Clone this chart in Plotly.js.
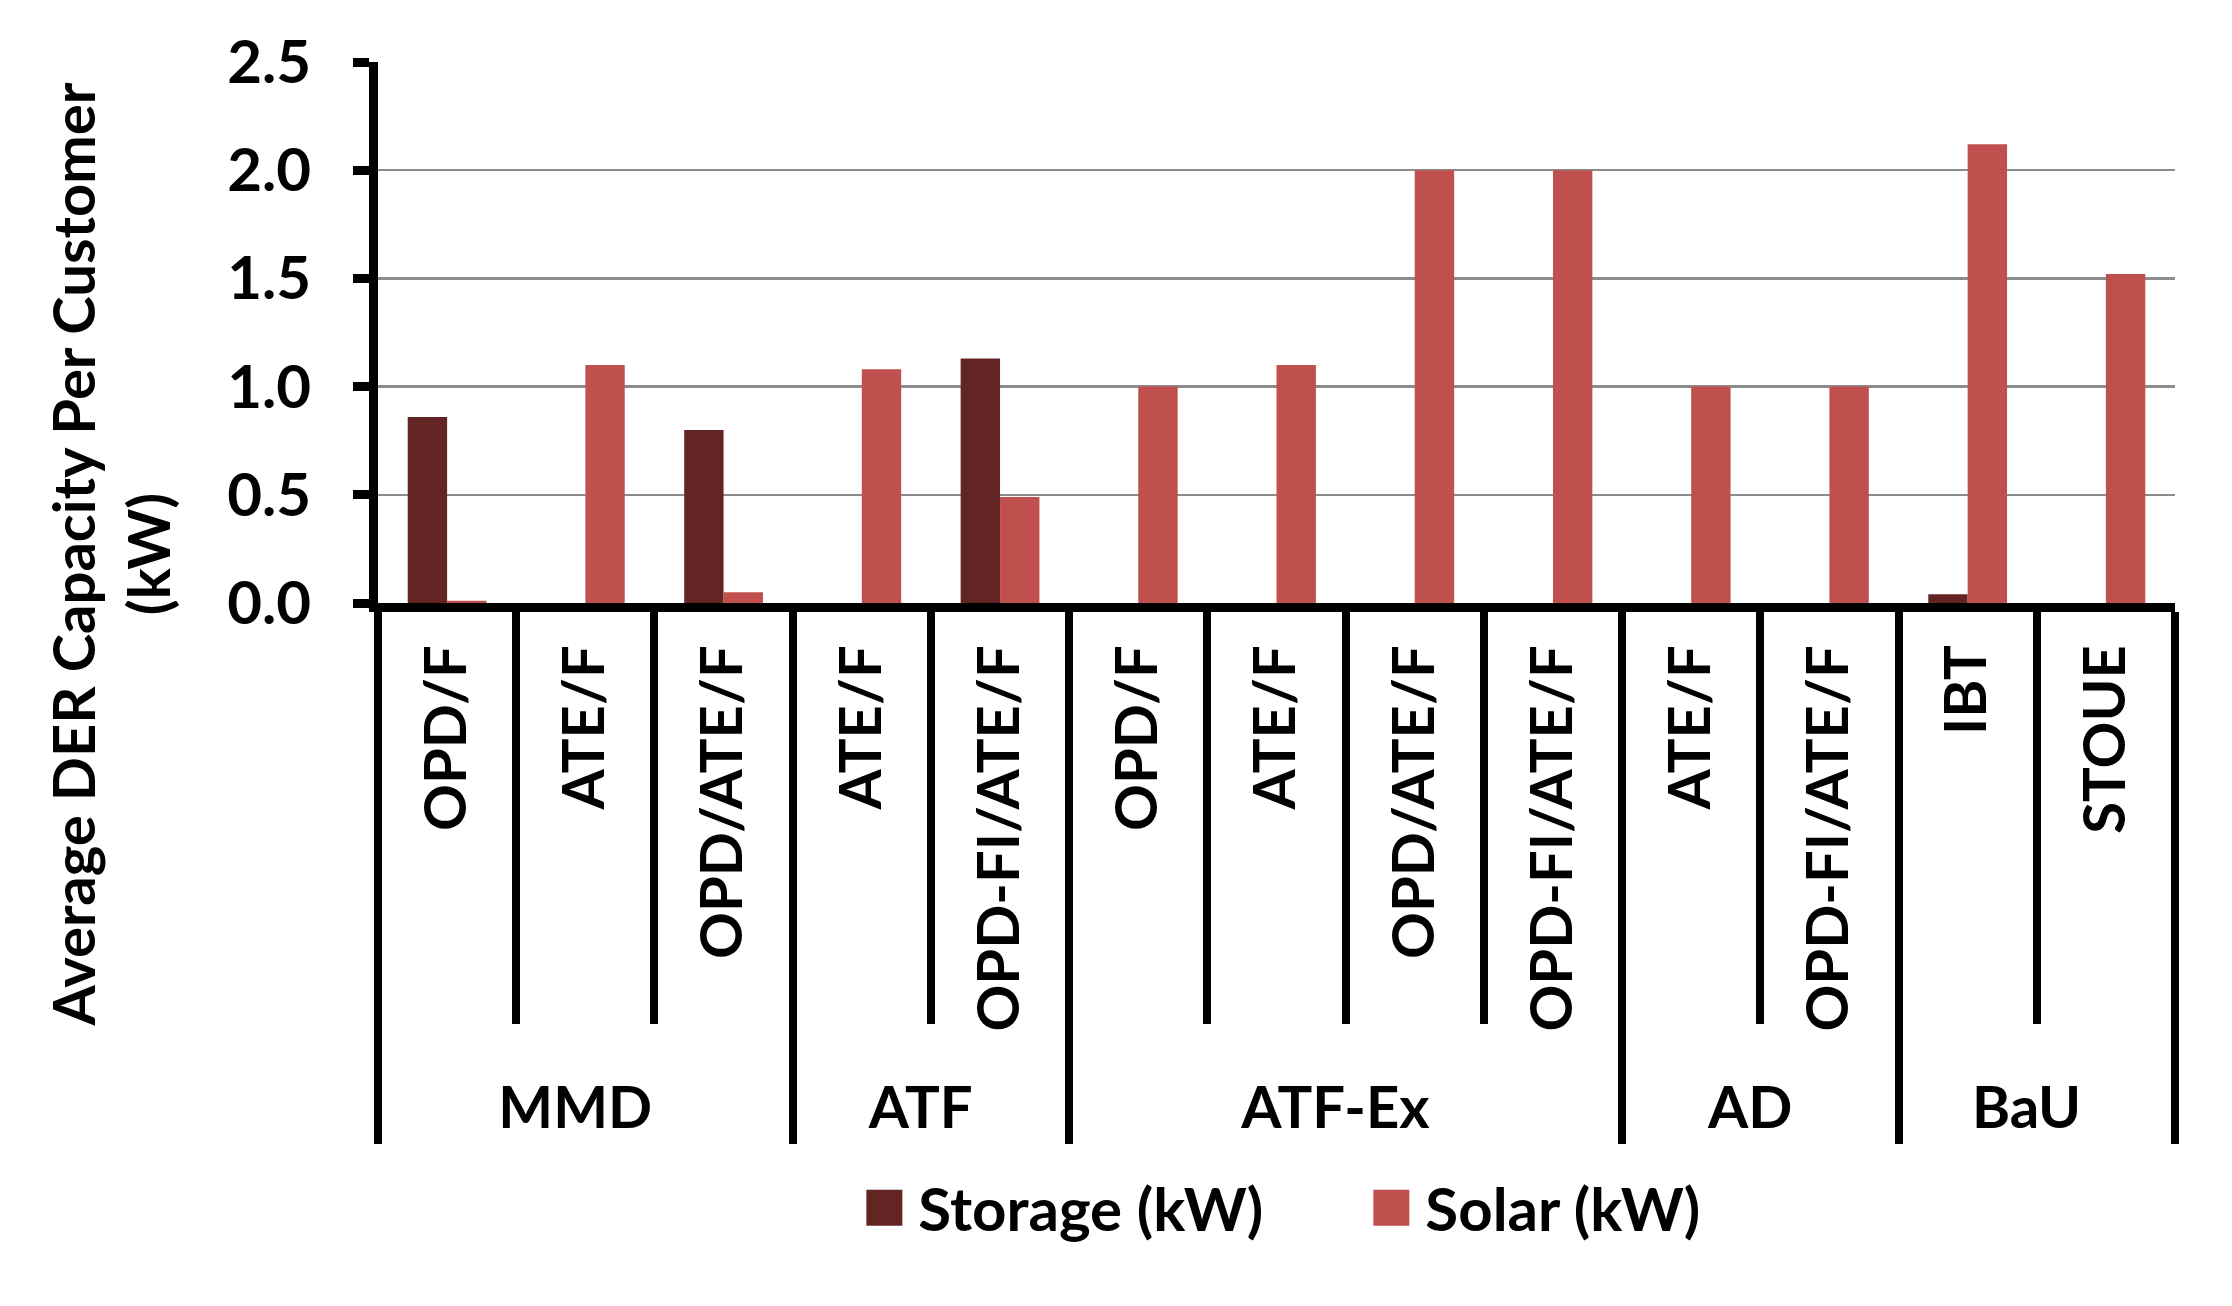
<!DOCTYPE html>
<html><head><meta charset="utf-8">
<script src="https://cdn.plot.ly/plotly-3.0.1.min.js"></script>
<style>html,body{margin:0;padding:0;background:#fff}#chart{width:2232px;height:1306px}</style>
</head><body><div id="chart"></div>
<script>
const groups = ['MMD','MMD','MMD','ATF','ATF','ATF-Ex','ATF-Ex','ATF-Ex','ATF-Ex','AD','AD','BaU','BaU'];
const scenarios = ['OPD/F','ATE/F','OPD/ATE/F','ATE/F','OPD-FI/ATE/F','OPD/F','ATE/F','OPD/ATE/F','OPD-FI/ATE/F','ATE/F','OPD-FI/ATE/F','IBT','STOUE'];
const storageKW = [0.86,0,0.80,0,1.13,0,0,0,0,0,0,0.04,0];
const solarKW = [0.01,1.10,0.05,1.08,0.49,1.0,1.10,2.0,2.0,1.0,1.0,2.12,1.52];
const seriesNames = ['Storage (kW)','Solar (kW)'];
const yTitle = 'Average DER Capacity Per Customer<br>(kW)';

const FONT = 'Lato, "Liberation Sans", sans-serif';
const bold = (size) => ({family: FONT, size: size, color: '#000', weight: 700});

const traces = [
  {type:'bar', name: seriesNames[0], x:[groups, scenarios], y: storageKW, marker:{color:'#632523'}},
  {type:'bar', name: seriesNames[1], x:[groups, scenarios], y: solarKW, marker:{color:'#C0504D'}}
];

const layout = {
  width: 2232, height: 1306,
  margin: {l: 378, r: 57, t: 62, b: 703},
  paper_bgcolor: '#fff', plot_bgcolor: '#fff',
  barmode: 'group', bargap: 0.43, bargroupgap: 0,
  font: bold(58),
  showlegend: true,
  legend: {orientation: 'h', x: 0.545, xanchor: 'center', y: -1.118, yanchor: 'middle',
           font: bold(60), itemwidth: 58, traceorder: 'normal',
           entrywidth: 434, entrywidthmode: 'pixels'},
  xaxis: {
    type: 'multicategory', automargin: false,
    showline: true, linecolor: '#000', linewidth: 9,
    ticks: 'outside', tickson: 'boundaries', ticklen: 412, tickwidth: 8, tickcolor: '#000',
    ticklabelstandoff: 10,
    tickangle: -90, tickfont: bold(58),
    showdividers: true, dividercolor: '#000', dividerwidth: 8,
    showgrid: false, zeroline: false
  },
  yaxis: {
    range: [0, 2.5], dtick: 0.5, tick0: 0, tickformat: '.1f', automargin: false,
    showline: true, linecolor: '#000', linewidth: 9,
    ticks: 'outside', ticklen: 16, tickwidth: 9, tickcolor: '#000',
    ticklabelstandoff: 30, tickfont: bold(60),
    showgrid: true, gridcolor: '#8c8c8c', gridwidth: 2.5, zeroline: false
  },
  annotations: [{
    text: yTitle, textangle: -90, xref: 'paper', yref: 'paper',
    x: -0.149, y: 0.09, xanchor: 'center', yanchor: 'middle',
    showarrow: false, align: 'center', font: bold(58)
  }]
};

Plotly.newPlot('chart', traces, layout, {staticPlot: true}).then(function(gd){
  // enlarge the legend swatches to match the reference's square keys
  gd.querySelectorAll('.legend .legendpoints path').forEach(function(p){
    const t = p.getAttribute('transform') || '';
    p.setAttribute('transform', t + ' scale(3)');
  });
});
</script></body></html>
